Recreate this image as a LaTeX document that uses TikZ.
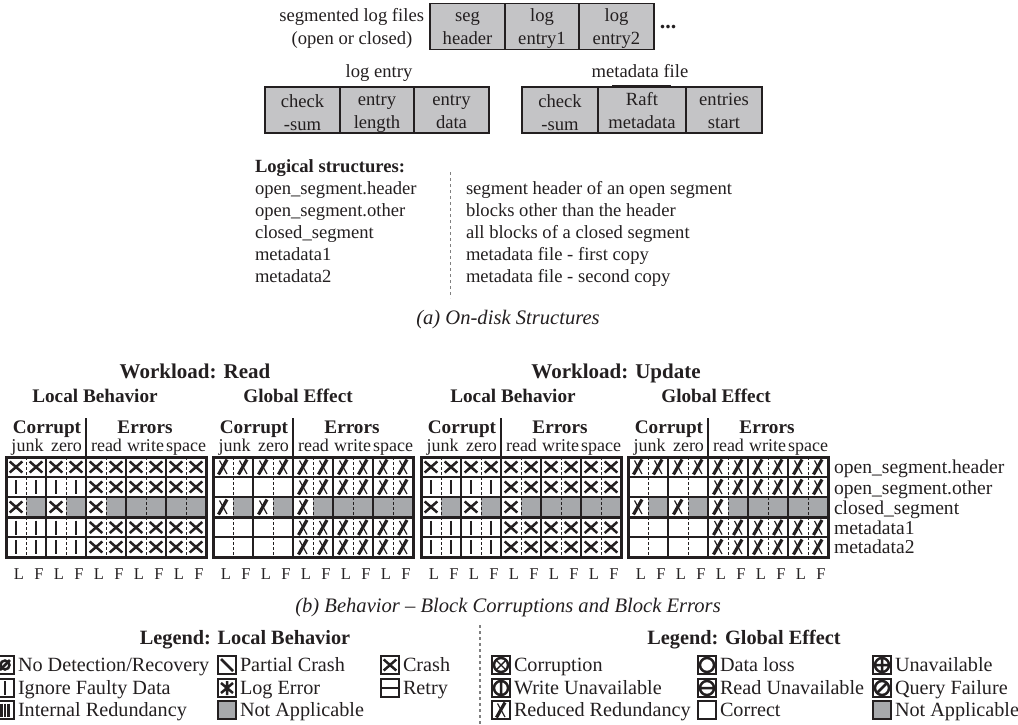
\documentclass[tikz,border=0pt]{standalone}
\usepackage{fontspec}
\setmainfont{Liberation Serif}
\newcommand\fs[1]{\fontsize{#1}{#1}\selectfont}
\newcommand\cc[2]{\rule{0pt}{17.5pt}#1\\#2\vphantom{g}}
\newcommand\ccb[2]{\rule{0pt}{19pt}#1\\#2}
\definecolor{ink}{HTML}{231F20}
\definecolor{boxgray}{HTML}{C4C4C6}
\definecolor{nagray}{HTML}{A7A9AC}
\tikzset{
  every node/.style={text=ink,inner sep=0pt,outer sep=0pt},
  norm/.style={text height=15pt,text depth=2pt},
  txt/.style={norm,font=\fs{18.6}},
  txtl/.style={txt,anchor=west},
  capt/.style={norm,font=\fs{20.6}\itshape},
  h1/.style={norm,font=\fs{21}\bfseries},
  h2/.style={norm,font=\fs{19.2}\bfseries},
  h3/.style={norm,font=\fs{20.3}\bfseries},
  sub/.style={norm,font=\fs{18}},
  lf/.style={norm,font=\fs{16.5}},
  cellbox/.style={draw=ink,line width=1.7pt,fill=boxgray,minimum height=46pt,align=center,font=\fs{18.6},execute at begin node=\setlength{\baselineskip}{23pt}},
  legbox/.style={draw=ink,line width=2.2pt,minimum width=18pt,minimum height=18pt},
  legtext/.style={norm,font=\fs{20.2},anchor=west},
  markline/.style={draw=ink,line width=2.5pt,line cap=butt},
  mkN/.pic={},
  mkG/.pic={\fill[nagray] (-10,-10) rectangle (10,10);},
  mkX/.pic={\draw[markline] (-6.3,-5.5) -- (6.3,5.5) (-6.3,5.5) -- (6.3,-5.5);},
  mkI/.pic={\draw[markline,line width=2.6pt] (0,-7) -- (0,7);},
  mkR/.pic={\draw[markline,line width=3.2pt] (-4.5,7.5) -- (4,-7.5);\draw[markline,line width=1.2pt] (-3.5,-6.5) -- (4,7);},
  sD/.pic={\draw[markline] (0,0) circle (4.5);\draw[markline] (-5,5) -- (5,-5);},
  sII/.pic={\draw[markline] (-3.5,-6.5) -- (-3.5,6.5) (0,-6.5) -- (0,6.5) (3.5,-6.5) -- (3.5,6.5);},
  sP/.pic={\draw[markline] (-6,-6) -- (6,6);},
  sL/.pic={\draw[markline] (-6,-5) -- (6,5) (-6,5) -- (6,-5) (0,-7) -- (0,7);},
  sH/.pic={\draw[markline] (-8,0) -- (8,0);},
  sC/.pic={\draw[markline] (0,0) circle (7);},
  sCX/.pic={\draw[markline] (0,0) circle (7);\draw[markline,line width=1.4pt] (-5,-5) -- (5,5) (-5,5) -- (5,-5);},
  sCP/.pic={\draw[markline] (0,0) circle (7) (-7,0) -- (7,0) (0,-7) -- (0,7);},
  sCV/.pic={\draw[markline] (0,0) circle (7) (0,-7) -- (0,7);},
  sCH/.pic={\draw[markline] (0,0) circle (7) (-7,0) -- (7,0);},
  sCS/.pic={\draw[markline] (0,0) circle (7) (-5,5) -- (5,-5);},
}
\newcommand\legitem[6]{%
  \node[legbox,#5] (#1) at (#2,#3) {};
  \pic at (#2,#3) {#4};
  \node[legtext] (#1t) at (#2+13,#3) {#6};
}
% rows
\def\rlocal{467/{X,X,X,X,X,X,X,X,X,X},487/{I,I,I,I,X,X,X,X,X,X},507/{X,G,X,G,X,G,G,G,G,G},527.5/{I,I,I,I,X,X,X,X,X,X},547/{I,I,I,I,X,X,X,X,X,X}}
\def\rglobal{467/{R,R,R,R,R,R,R,R,R,R},487/{N,N,N,N,R,R,R,R,R,R},507/{R,G,R,G,R,G,G,G,G,G},527.5/{N,N,N,N,R,R,R,R,R,R},547/{N,N,N,N,R,R,R,R,R,R}}
\newcommand\tablegrid[3]{%
 \begin{scope}[xshift=#2pt]
  \node[h2] (#1c) at (41,427) {Corrupt};
  \node[h2] (#1e) at (139,427) {Errors};
  \node[sub] (#1j) at (21.5,445) {junk};
  \node[sub] (#1z) at (60.5,445) {zero};
  \node[sub] (#1r) at (100.5,445) {read};
  \node[sub] (#1w) at (139.5,445) {write};
  \node[sub] (#1s) at (180,445) {space};
  \edef\rowset{#3}
  \foreach \yy/\lst in \rowset {
    \foreach \m [count=\i from 0] in \lst {
      \pic at (10+20*\i,\yy) {mk\m};
    }
  }
  \foreach \xx in {20,60,100,140,180}
    \draw[ink,line width=.8pt,dash pattern=on 3pt off 2pt] (\xx,457) -- (\xx,557);
  \foreach \xx in {40,120,160}
    \draw[ink,line width=1.6pt] (\xx,457) -- (\xx,557);
  \draw[ink,line width=2.2pt] (80,418) -- (80,557);
  \foreach \yy in {477,497,517.5,537}
    \draw[ink,line width=2.4pt] (0,\yy) -- (200,\yy);
  \draw[ink,line width=3pt] (0,457) rectangle (200,557);
  \foreach \l [count=\i from 0] in {L,F,L,F,L,F,L,F,L,F}
    \node[lf] (#1l\i) at (13+20*\i,573) {\l};
 \end{scope}
}
\begin{document}
\begin{tikzpicture}[x=1pt,y=-1pt]
\useasboundingbox (0,0) rectangle (1018,725);
% top structures
\node[txt,anchor=east] (seglbl) at (424,15) {segmented log files};
\node[txt] (seglbl2) at (352,38) {(open or closed)};
\node[cellbox,minimum width=75pt] (s1) at (467.5,26.5) {\cc{seg}{header}};
\node[cellbox,minimum width=74pt] (s2) at (542,26.5) {\cc{log}{entry1}};
\node[cellbox,minimum width=75pt] (s3) at (616.5,26.5) {\cc{log}{entry2}};
\node[font=\fs{22}\bfseries] (dots) at (668,27) {...};
\node[txt] (le) at (379,71) {log entry};
\node[txt] (mf) at (640,71) {metadata file};
\node[cellbox,minimum width=75pt] (e1) at (302.5,110) {\ccb{check}{-sum}};
\node[cellbox,minimum width=74pt] (e2) at (377,110) {\cc{entry}{length}};
\node[cellbox,minimum width=75pt] (e3) at (451.5,110) {\cc{entry}{data}};
\node[cellbox,minimum width=76pt] (m1) at (560,110) {\ccb{check}{-sum}};
\node[cellbox,minimum width=88pt] (m2) at (642,110) {\cc{Raft}{metadata}};
\node[cellbox,minimum width=76pt] (m3) at (724,110) {\cc{entries}{start}};
\draw[ink,line width=1.2pt] (612,85.5) -- (671,85.5);
% logical
\node[txtl,font=\fs{18.6}\bfseries] (ls) at (255,166) {Logical structures:};
\foreach \y/\a/\b [count=\i] in {188/open\_segment.header/segment header of an open segment,
  210/open\_segment.other/blocks other than the header,
  232/closed\_segment/all blocks of a closed segment,
  254/metadata1/metadata file - first copy,
  276/metadata2/metadata file - second copy}{
  \node[txtl] (la\i) at (255,\y) {\a};
  \node[txtl] (lb\i) at (466,\y) {\b};
}
\draw[gray,line width=.7pt,dashed] (450,172) -- (450,298);
\node[capt] (capa) at (508,318) {(a) On-disk Structures};
% headings
\node[h1] (wr) at (195,372) {Workload: Read};
\node[h1] (wu) at (616,372) {Workload: Update};
\node[h2] (t1h) at (95,396) {Local Behavior};
\node[h2] (t2h) at (298,396) {Global Effect};
\node[h2] (t3h) at (513,396) {Local Behavior};
\node[h2] (t4h) at (716,396) {Global Effect};
\tablegrid{ta}{6}{\rlocal}
\tablegrid{tb}{213}{\rglobal}
\tablegrid{tc}{421}{\rlocal}
\tablegrid{td}{628}{\rglobal}
% row labels
\tikzset{rl/.style={norm,anchor=west,font=\fs{19.6}}}
\node[rl] (r1) at (834,467) {open\_segment.header};
\node[rl] (r2) at (834,488) {open\_segment.other};
\node[rl] (r3) at (834,508) {closed\_segment};
\node[rl] (r4) at (834,528) {metadata1};
\node[rl] (r5) at (834,547) {metadata2};
\node[capt] (capb) at (508,606) {(b) Behavior -- Block Corruptions and Block Errors};
% legends
\node[h3] (ll) at (245,638) {Legend: Local Behavior};
\node[h3] (lg) at (744,638) {Legend: Global Effect};
\draw[gray,line width=1.6pt,dashed] (480,625) -- (480,725);
\legitem{a1}{5}{665}{sD}{}{No Detection/Recovery}
\legitem{a2}{5}{688}{mkI}{}{Ignore Faulty Data}
\legitem{a3}{5}{710}{sII}{}{Internal Redundancy}
\legitem{b1}{227}{665}{sP}{}{Partial Crash}
\legitem{b2}{227}{688}{sL}{}{Log Error}
\legitem{b3}{227}{710}{mkN}{fill=nagray}{Not Applicable}
\legitem{c1}{390}{665}{mkX}{}{Crash}
\legitem{c2}{390}{688}{sH}{}{Retry}
\legitem{d1}{501}{665}{sCX}{}{Corruption}
\legitem{d2}{501}{688}{sCV}{}{Write Unavailable}
\legitem{d3}{501}{710}{mkR}{}{Reduced Redundancy}
\legitem{e1b}{707}{665}{sC}{}{Data loss}
\legitem{e2b}{707}{688}{sCH}{}{Read Unavailable}
\legitem{e3b}{707}{710}{mkN}{}{Correct}
\legitem{f1}{882}{665}{sCP}{}{Unavailable}
\legitem{f2}{882}{688}{sCS}{}{Query Failure}
\legitem{f3}{882}{710}{mkN}{fill=nagray}{Not Applicable}
\end{tikzpicture}
\end{document}
